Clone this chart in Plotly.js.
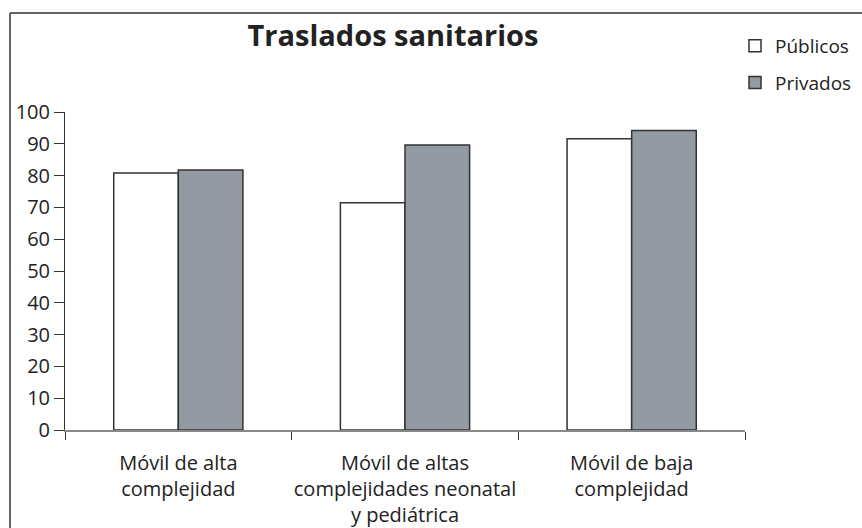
<!DOCTYPE html>
<html>
<head>
<meta charset="utf-8">
<script src="https://cdn.plot.ly/plotly-3.0.1.min.js"></script>
<style>html,body{margin:0;padding:0;background:#fff;}#chart{width:862px;height:528px;}</style>
</head>
<body>
<div id="chart"></div>
<script>
const categories = ["Móvil de alta<br>complejidad", "Móvil de altas<br>complejidades neonatal<br>y pediátrica", "Móvil de baja<br>complejidad"];
const publicos = [80.8, 71.5, 91.6];
const privados = [81.8, 89.6, 94.2];
const yTicks = [0, 10, 20, 30, 40, 50, 60, 70, 80, 90, 100];

const W = 862, H = 528;
const m = {l: 65, r: 117, t: 112, b: 98, autoexpand: false};
const pw = W - m.l - m.r, ph = H - m.t - m.b;
const px = v => (v - m.l) / pw;
const py = v => (H - m.b - v) / ph;

const fam = "Open Sans, Noto Sans, sans-serif";
const xfont = {family: fam, size: 20, color: "#222"};
const yfont = {family: fam, size: 20, color: "#222"};

const traces = [
  {type: "bar", name: "Públicos", x: categories, y: publicos, legendgroup: "a",
   marker: {color: "#ffffff", line: {color: "#333", width: 1.5}}},
  {type: "bar", name: "Privados", x: categories, y: privados, legendgroup: "b",
   marker: {color: "#939aa1", line: {color: "#333", width: 1.5}}}
];

const layout = {
  width: W, height: H,
  margin: m,
  paper_bgcolor: "#fff", plot_bgcolor: "#fff",
  font: xfont,
  barmode: "group", bargap: 0.43, bargroupgap: 0,
  title: {text: "<b>Traslados sanitarios</b>", font: {family: fam, size: 29, color: "#222"},
          xref: "paper", x: px(393), xanchor: "center", yref: "container", y: 1 - 36 / H, yanchor: "middle"},
  showlegend: true,
  legend: {x: px(735), xanchor: "left", y: py(27), yanchor: "top",
           font: {family: fam, size: 19, color: "#222"},
           traceorder: "grouped", tracegroupgap: 9, bgcolor: "rgba(0,0,0,0)"},
  xaxis: {type: "category", tickson: "boundaries", ticks: "outside", ticklen: 8, tickcolor: "#333", tickwidth: 1,
          ticklabelstandoff: 14, tickangle: 0, automargin: false,
          showline: true, linecolor: "#888", linewidth: 1.5, showgrid: false, tickfont: xfont, fixedrange: true},
  yaxis: {range: [0, 100], tickvals: yTicks, ticktext: yTicks.map(String), ticks: "outside", ticklen: 10, tickcolor: "#333",
          automargin: false,
          tickwidth: 1, showline: true, linecolor: "#333", linewidth: 1, showgrid: false, zeroline: false, tickfont: yfont},
  shapes: [
    {type: "line", xref: "paper", yref: "paper", x0: px(10), x1: px(10), y0: py(H + 5), y1: py(13), line: {color: "#666", width: 2}},
    {type: "line", xref: "paper", yref: "paper", x0: px(10), x1: px(W + 5), y0: py(13), y1: py(13), line: {color: "#333", width: 1.5}}
  ]
};

Plotly.newPlot("chart", traces, layout, {displayModeBar: false, staticPlot: true});
</script>
</body>
</html>
